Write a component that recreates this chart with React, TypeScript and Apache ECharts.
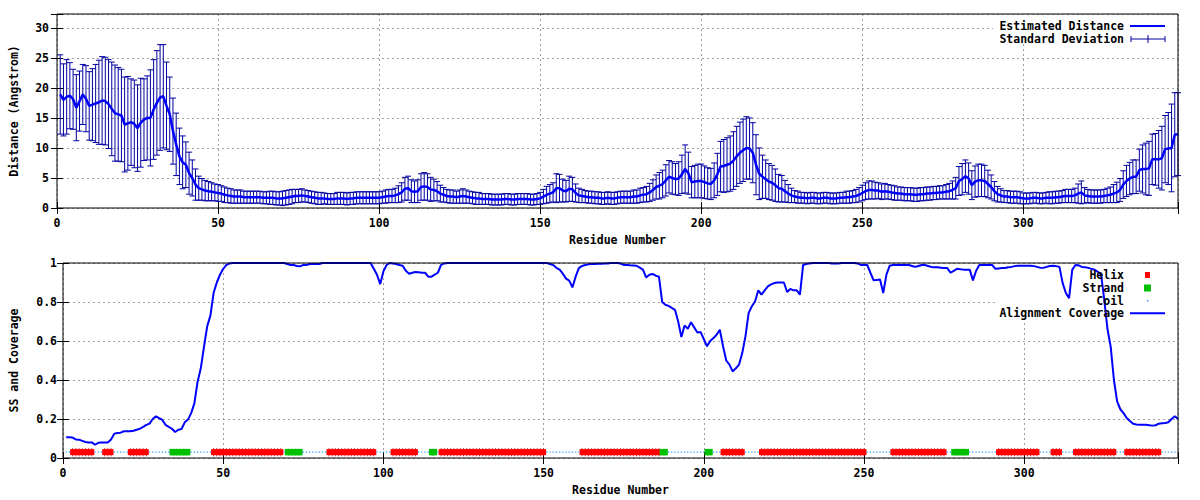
import React, { useEffect, useRef } from 'react';
import * as echarts from 'echarts';

// ---------------- DATA ----------------
const xMax = 348;
const distYMax = 32.3;

// Estimated distance (Angstrom), residues 1..348
const distMean = [
  18.9, 18.0, 18.5, 18.7, 18.1, 16.7, 17.8, 18.9, 18.2, 17.0,
  17.2, 17.4, 17.6, 17.9, 17.8, 17.3, 16.5, 15.8, 15.6, 15.4,
  13.9, 14.1, 14.3, 14.0, 13.3, 14.2, 14.7, 15.0, 15.0, 16.4,
  17.5, 18.4, 18.6, 17.0, 15.6, 12.8, 10.6, 8.6, 7.6, 7.2,
  5.8, 5.0, 3.9, 3.3, 3.1, 2.9, 2.8, 2.7, 2.6, 2.5,
  2.4, 2.2, 2.1, 2.0, 1.9, 1.9, 1.9, 1.8, 1.8, 1.8,
  1.8, 1.8, 1.8, 1.7, 1.7, 1.7, 1.7, 1.6, 1.6, 1.6,
  1.7, 1.8, 1.9, 2.0, 2.0, 2.1, 2.0, 1.9, 1.8, 1.7,
  1.6, 1.6, 1.6, 1.5, 1.5, 1.5, 1.6, 1.6, 1.6, 1.5,
  1.6, 1.6, 1.7, 1.7, 1.7, 1.7, 1.7, 1.7, 1.7, 1.7,
  1.8, 1.9, 2.0, 2.0, 2.1, 2.3, 2.6, 3.2, 3.3, 2.8,
  2.7, 2.8, 3.5, 3.6, 3.5, 3.1, 3.0, 2.8, 2.4, 2.2,
  2.0, 1.9, 1.9, 1.8, 1.9, 2.0, 1.9, 1.8, 1.7, 1.6,
  1.6, 1.5, 1.5, 1.5, 1.4, 1.4, 1.4, 1.4, 1.5, 1.5,
  1.4, 1.4, 1.5, 1.5, 1.5, 1.5, 1.4, 1.4, 1.5, 1.6,
  1.9, 2.2, 2.4, 2.6, 3.3, 3.3, 2.9, 2.8, 3.2, 3.1,
  2.5, 2.1, 2.0, 1.9, 1.8, 1.8, 1.7, 1.7, 1.6, 1.6,
  1.7, 1.6, 1.6, 1.7, 1.8, 1.8, 1.8, 1.8, 1.9, 1.9,
  2.1, 2.2, 2.3, 2.6, 3.0, 3.5, 3.7, 4.0, 4.6, 5.2,
  5.0, 4.8, 4.9, 5.6, 6.5, 5.8, 4.3, 4.4, 4.5, 4.5,
  4.3, 4.1, 4.0, 4.6, 5.6, 6.9, 7.0, 7.2, 7.4, 7.9,
  8.6, 9.2, 9.6, 10.0, 9.9, 9.2, 7.2, 5.7, 5.2, 4.8,
  4.4, 4.2, 3.8, 3.3, 3.2, 2.8, 2.4, 2.1, 1.9, 1.8,
  1.7, 1.7, 1.6, 1.7, 1.7, 1.6, 1.6, 1.7, 1.7, 1.6,
  1.6, 1.6, 1.7, 1.7, 1.8, 1.8, 1.9, 2.0, 2.2, 2.5,
  2.8, 3.0, 3.0, 2.9, 2.9, 2.7, 2.8, 2.7, 2.6, 2.5,
  2.4, 2.4, 2.3, 2.3, 2.3, 2.2, 2.2, 2.3, 2.3, 2.4,
  2.4, 2.5, 2.5, 2.6, 2.6, 2.7, 2.8, 3.0, 3.3, 4.5,
  4.8, 5.3, 4.9, 3.8, 4.4, 4.6, 4.6, 4.5, 4.0, 3.5,
  2.8, 2.3, 2.1, 1.9, 1.9, 1.8, 1.8, 1.8, 1.7, 1.6,
  1.6, 1.6, 1.7, 1.7, 1.6, 1.6, 1.7, 1.7, 1.7, 1.8,
  1.8, 1.9, 2.0, 2.0, 2.0, 2.1, 2.4, 2.6, 2.1, 2.0,
  1.9, 1.9, 1.9, 1.9, 2.0, 2.1, 2.2, 2.4, 2.6, 3.0,
  3.9, 4.5, 4.9, 5.2, 5.2, 6.3, 6.5, 6.5, 6.6, 8.1,
  8.1, 8.1, 8.3, 9.8, 9.9, 10.0, 12.2, 12.3,
];

// Standard deviation of the distance, residues 1..348
const distStd = [
  6.6, 6.0, 6.2, 5.5, 5.0, 5.5, 5.0, 5.0, 5.5, 5.7,
  6.0, 6.5, 7.0, 7.3, 7.3, 7.4, 7.8, 8.0, 7.8, 7.7,
  7.9, 7.8, 7.2, 7.3, 7.2, 7.4, 6.8, 7.0, 8.0, 8.3,
  8.7, 8.8, 8.6, 7.3, 6.2, 5.5, 5.2, 4.7, 4.4, 3.8,
  3.5, 3.0, 2.6, 2.0, 1.8, 1.7, 1.6, 1.5, 1.4, 1.4,
  1.3, 1.3, 1.2, 1.2, 1.1, 1.1, 1.1, 1.0, 1.0, 1.0,
  1.0, 1.0, 1.0, 1.0, 1.0, 1.1, 1.1, 1.1, 1.1, 1.2,
  1.2, 1.2, 1.2, 1.1, 1.1, 1.1, 1.0, 1.0, 1.0, 1.0,
  1.0, 1.0, 0.9, 0.9, 0.9, 0.9, 1.0, 1.0, 1.0, 1.0,
  1.0, 1.0, 1.0, 1.0, 1.0, 1.0, 1.0, 1.0, 1.0, 1.0,
  1.0, 1.1, 1.1, 1.1, 1.2, 1.4, 1.6, 1.9, 2.0, 1.9,
  1.8, 1.9, 2.2, 2.3, 2.2, 2.0, 1.8, 1.6, 1.4, 1.2,
  1.1, 1.1, 1.1, 1.0, 1.1, 1.2, 1.1, 1.0, 1.0, 1.0,
  1.0, 0.9, 0.9, 0.9, 0.9, 0.9, 0.9, 0.9, 0.9, 0.9,
  0.9, 0.9, 0.9, 0.9, 0.9, 0.9, 0.9, 0.9, 0.9, 1.0,
  1.2, 1.4, 1.5, 1.6, 2.4, 2.3, 1.9, 1.8, 2.1, 2.0,
  1.5, 1.2, 1.1, 1.0, 1.0, 1.0, 1.0, 1.0, 1.0, 1.0,
  1.0, 1.0, 1.0, 1.0, 1.0, 1.0, 1.0, 1.0, 1.1, 1.1,
  1.2, 1.2, 1.3, 1.5, 1.7, 2.0, 2.2, 2.3, 2.6, 2.7,
  2.7, 2.6, 2.8, 3.2, 4.0, 3.5, 2.6, 2.7, 2.8, 2.8,
  2.7, 2.6, 2.6, 2.9, 3.5, 4.2, 4.4, 4.5, 4.6, 4.8,
  5.0, 5.1, 5.2, 5.2, 5.1, 5.0, 5.0, 4.3, 3.6, 3.2,
  3.0, 2.9, 2.7, 2.3, 2.2, 1.8, 1.5, 1.2, 1.0, 1.0,
  0.9, 0.9, 0.9, 0.9, 0.9, 0.9, 0.9, 0.9, 0.9, 0.9,
  0.9, 0.9, 0.9, 0.9, 1.0, 1.0, 1.0, 1.1, 1.2, 1.3,
  1.4, 1.5, 1.5, 1.4, 1.3, 1.3, 1.3, 1.2, 1.2, 1.2,
  1.1, 1.1, 1.1, 1.1, 1.1, 1.1, 1.1, 1.1, 1.1, 1.1,
  1.1, 1.1, 1.1, 1.1, 1.1, 1.2, 1.3, 1.5, 1.8, 2.4,
  2.6, 2.7, 2.6, 2.4, 2.6, 2.7, 2.7, 2.6, 2.3, 2.0,
  1.6, 1.3, 1.1, 1.0, 1.0, 1.0, 1.0, 1.0, 1.0, 0.9,
  0.9, 0.9, 0.9, 0.9, 0.9, 0.9, 0.9, 1.0, 1.0, 1.0,
  1.0, 1.0, 1.1, 1.1, 1.1, 1.2, 1.6, 1.9, 1.3, 1.1,
  1.1, 1.1, 1.1, 1.1, 1.1, 1.2, 1.3, 1.5, 1.7, 1.9,
  2.3, 2.6, 2.7, 2.8, 2.8, 3.5, 4.0, 4.3, 4.5, 4.2,
  4.3, 4.8, 5.3, 5.6, 6.0, 7.3, 7.0, 6.9,
];

// Alignment coverage, residues 1..348
const coverage = [
  0.106, 0.106, 0.105, 0.095, 0.094, 0.088, 0.082, 0.080, 0.080, 0.068,
  0.078, 0.080, 0.080, 0.080, 0.095, 0.125, 0.128, 0.130, 0.137, 0.137,
  0.137, 0.140, 0.145, 0.150, 0.160, 0.170, 0.176, 0.200, 0.214, 0.205,
  0.195, 0.170, 0.160, 0.150, 0.133, 0.145, 0.149, 0.183, 0.197, 0.230,
  0.280, 0.390, 0.460, 0.570, 0.675, 0.730, 0.846, 0.900, 0.940, 0.970,
  0.990, 0.998, 1, 1, 1, 1, 1, 1, 1, 1,
  1, 1, 1, 1, 1, 1, 1, 1, 1, 0.995,
  0.990, 0.990, 0.985, 0.983, 0.990, 0.990, 0.995, 0.995, 0.995, 0.995,
  1, 1, 1, 1, 1, 1, 1, 1, 1, 1,
  1, 1, 1, 1, 1, 1, 0.970, 0.940, 0.892, 0.957,
  0.990, 1, 0.997, 0.995, 0.990, 0.986, 0.960, 0.945, 0.950, 0.954,
  0.952, 0.950, 0.950, 0.930, 0.930, 0.940, 0.950, 0.990, 0.998, 1,
  1, 1, 1, 1, 1, 1, 1, 1, 1, 1,
  1, 1, 1, 1, 1, 1, 1, 1, 1, 1,
  1, 1, 1, 1, 1, 1, 1, 1, 1, 1,
  1, 0.995, 0.990, 0.975, 0.966, 0.945, 0.920, 0.910, 0.875, 0.930,
  0.974, 0.985, 0.990, 0.993, 0.995, 0.995, 0.996, 0.996, 0.997, 0.998,
  1, 1, 1, 0.997, 0.990, 0.990, 0.988, 0.987, 0.986, 0.976,
  0.966, 0.926, 0.940, 0.944, 0.935, 0.930, 0.800, 0.786, 0.780, 0.770,
  0.760, 0.700, 0.620, 0.680, 0.663, 0.696, 0.670, 0.644, 0.646, 0.610,
  0.573, 0.600, 0.615, 0.632, 0.658, 0.573, 0.500, 0.479, 0.444, 0.460,
  0.479, 0.538, 0.624, 0.744, 0.778, 0.803, 0.860, 0.838, 0.860, 0.880,
  0.890, 0.897, 0.900, 0.900, 0.900, 0.851, 0.867, 0.860, 0.860, 0.838,
  0.990, 0.995, 0.998, 1, 1, 1, 1, 1, 1, 0.998,
  0.997, 0.998, 1, 1, 1, 1, 1, 0.998, 0.990, 0.990,
  0.990, 0.950, 0.911, 0.913, 0.915, 0.846, 0.940, 0.986, 0.990, 0.990,
  0.990, 0.990, 0.990, 0.990, 0.985, 0.980, 0.985, 0.990, 0.990, 0.985,
  0.980, 0.978, 0.978, 0.976, 0.974, 0.974, 0.950, 0.960, 0.970, 0.968,
  0.966, 0.966, 0.966, 0.911, 0.960, 0.990, 0.990, 0.990, 0.990, 0.990,
  0.970, 0.972, 0.974, 0.974, 0.978, 0.980, 0.984, 0.986, 0.986, 0.986,
  0.986, 0.986, 0.984, 0.980, 0.976, 0.975, 0.980, 0.985, 0.986, 0.984,
  0.980, 0.897, 0.846, 0.820, 0.966, 0.990, 0.988, 0.980, 0.978, 0.975,
  0.970, 0.965, 0.955, 0.940, 0.810, 0.660, 0.570, 0.400, 0.290, 0.250,
  0.230, 0.205, 0.190, 0.176, 0.172, 0.170, 0.170, 0.170, 0.168, 0.166,
  0.168, 0.176, 0.178, 0.180, 0.183, 0.200, 0.214, 0.200,
];

// Secondary structure segments (residue ranges)
const helixRanges = [
  [3, 9], [13, 15], [21, 26], [47, 68], [83, 97], [103, 110], [118, 150],
  [162, 186], [206, 212], [218, 250], [259, 275], [292, 304], [309, 311],
  [316, 328], [332, 342],
];
const strandRanges = [[34, 39], [70, 74], [115, 116], [187, 188], [201, 202], [278, 282]];
const ssLevel = 0.03;

// ---------------- BUILD ----------------
const residues = distMean.map((_, i) => i + 1);
const inRanges = (r: number, ranges: number[][]) => ranges.some(([a, b]) => r >= a && r <= b);
const helixData = residues.filter((r) => inRanges(r, helixRanges)).map((r) => [r, ssLevel]);
const strandData = residues.filter((r) => inRanges(r, strandRanges)).map((r) => [r, ssLevel]);
const coilData = residues
  .filter((r) => !inRanges(r, helixRanges) && !inRanges(r, strandRanges))
  .map((r) => [r, ssLevel]);

const FONT = '"DejaVu Sans Mono", "Liberation Mono", monospace';
const FS = 11.5;
const labelStyle = { fontFamily: FONT, fontWeight: 'bold' as const, fontSize: FS, color: '#000' };
const gridLine = { show: true, lineStyle: { color: '#a0a0a0', width: 1, type: [2, 3] as any } };
const tickIn = { show: true, inside: true, length: 6, lineStyle: { color: '#000', width: 1 } };

const DARK = '#0000a0';
const BLUE = '#0000ff';
const RED = '#ff0000';
const GREEN = '#00c000';
const COIL = '#1e8fff';

function xAxes(gridIndex: number) {
  return [
    {
      type: 'value', gridIndex, min: 0, max: xMax, interval: 50, position: 'bottom',
      axisLine: { show: false }, axisTick: tickIn,
      axisLabel: { ...labelStyle, margin: 9, formatter: (v: number) => (v % 50 === 0 ? String(v) : '') },
      splitLine: gridLine,
      name: 'Residue Number', nameLocation: 'middle', nameGap: 26,
      nameTextStyle: labelStyle,
    },
    {
      type: 'value', gridIndex, min: 0, max: xMax, interval: 50, position: 'top', z: 3,
      axisLine: { show: false }, axisTick: tickIn, axisLabel: { show: false }, splitLine: { show: false },
    },
  ];
}

function yAxes(gridIndex: number, max: number, interval: number, name: string, nameGap: number, margin: number) {
  return [
    {
      type: 'value', gridIndex, min: 0, max, interval, position: 'left',
      axisLine: { show: false }, axisTick: tickIn,
      axisLabel: {
        ...labelStyle, margin,
        formatter: (v: number) => {
          const k = Math.round(v / interval);
          return Math.abs(k * interval - v) < 1e-6 ? String(+(k * interval).toFixed(2)) : '';
        },
      },
      splitLine: gridLine,
      name, nameLocation: 'middle', nameGap, nameTextStyle: labelStyle,
    },
    {
      type: 'value', gridIndex, min: 0, max, interval, position: 'right', z: 3,
      axisLine: { show: false }, axisTick: tickIn, axisLabel: { show: false }, splitLine: { show: false },
    },
  ];
}

// one filled block per residue, wide enough to touch its neighbours (gnuplot point marks)
function ssBlock(color: string, h: number, notch: boolean) {
  return (params: any, api: any) => {
    const c = api.coord([api.value(0), api.value(1)]);
    const step = api.size([1, 0])[0];
    const w = Math.max(step + 1, 5);
    const children: any[] = [
      { type: 'rect', shape: { x: c[0] - w / 2, y: c[1] - h / 2, width: w, height: h }, style: { fill: color } },
    ];
    if (notch) {
      children.push(
        { type: 'rect', shape: { x: c[0] - 0.5, y: c[1] - h / 2 - 1, width: 1, height: 1 }, style: { fill: '#c00000' } },
        { type: 'rect', shape: { x: c[0] - 0.5, y: c[1] + h / 2, width: 1, height: 1 }, style: { fill: '#c00000' } },
      );
    }
    return { type: 'group', children };
  };
}

const txt = (text: string, x: number, y: number) => ({
  type: 'text', z: 6,
  style: {
    text, x, y, fill: '#000',
    font: `bold ${FS}px ${FONT}`,
    align: 'right', verticalAlign: 'middle',
    textAlign: 'right', textVerticalAlign: 'middle',
  },
});
const seg = (x1: number, y1: number, x2: number, y2: number, stroke: string, lineWidth: number) => ({
  type: 'line', z: 6, shape: { x1, y1, x2, y2 }, style: { stroke, lineWidth },
});

export default function App() {
  const ref = useRef<HTMLDivElement>(null);
  useEffect(() => {
    const chart = echarts.init(ref.current!, null, { renderer: 'svg' });
    const option: any = {
      animation: false,
      backgroundColor: '#fff',
      grid: [
        { left: 52, right: 22, top: 14, height: 194, show: true, borderColor: '#000', borderWidth: 1, backgroundColor: 'transparent', z: 4 },
        { left: 58, right: 22, top: 263, height: 195, show: true, borderColor: '#000', borderWidth: 1, backgroundColor: 'transparent', z: 4 },
      ],
      xAxis: [...xAxes(0), ...xAxes(1)],
      yAxis: [
        ...yAxes(0, distYMax, 5, 'Distance (Angstrom)', 37, 8),
        ...yAxes(1, 1, 0.2, 'SS and Coverage', 43, 6),
      ],
      series: [
        {
          name: 'Standard Deviation', type: 'custom', xAxisIndex: 0, yAxisIndex: 0, z: 2,
          data: residues.map((r, i) => [r, distMean[i], distStd[i]]),
          encode: { x: 0, y: 1 },
          renderItem: (params: any, api: any) => {
            const x = api.value(0), m = api.value(1), s = api.value(2);
            const t = api.coord([x, m + s]);
            const b = api.coord([x, m - s]);
            const w = 3;
            const style = { stroke: DARK, lineWidth: 1, fill: null };
            return {
              type: 'group',
              children: [
                { type: 'line', shape: { x1: t[0], y1: t[1], x2: b[0], y2: b[1] }, style },
                { type: 'line', shape: { x1: t[0] - w, y1: t[1], x2: t[0] + w, y2: t[1] }, style },
                { type: 'line', shape: { x1: b[0] - w, y1: b[1], x2: b[0] + w, y2: b[1] }, style },
              ],
            };
          },
        },
        {
          name: 'Estimated Distance', type: 'line', xAxisIndex: 0, yAxisIndex: 0, z: 3,
          data: residues.map((r, i) => [r, distMean[i]]),
          showSymbol: false, lineStyle: { color: BLUE, width: 2.5 }, itemStyle: { color: BLUE },
        },
        {
          name: 'Coil', type: 'scatter', xAxisIndex: 2, yAxisIndex: 2, z: 2,
          data: coilData, symbol: 'rect', symbolSize: 1.4, itemStyle: { color: COIL },
        },
        {
          name: 'Helix', type: 'custom', xAxisIndex: 2, yAxisIndex: 2, z: 2,
          data: helixData, encode: { x: 0, y: 1 }, renderItem: ssBlock(RED, 6, true),
        },
        {
          name: 'Strand', type: 'custom', xAxisIndex: 2, yAxisIndex: 2, z: 2,
          data: strandData, encode: { x: 0, y: 1 }, renderItem: ssBlock(GREEN, 6.5, false),
        },
        {
          name: 'Alignment Coverage', type: 'line', xAxisIndex: 2, yAxisIndex: 2, z: 3,
          data: residues.map((r, i) => [r, coverage[i]]),
          showSymbol: false, lineStyle: { color: BLUE, width: 2 }, itemStyle: { color: BLUE },
        },
      ],
      graphic: [
        // top key
        { type: 'rect', z: 1, shape: { x: 993, y: 15, width: 184, height: 29 }, style: { fill: '#fff' } },
        txt('Estimated Distance', 1124, 26),
        seg(1130, 26, 1165, 26, BLUE, 2),
        txt('Standard Deviation', 1124, 39),
        seg(1131, 39, 1165, 39, DARK, 1),
        seg(1131, 36, 1131, 42, DARK, 1),
        seg(1165, 36, 1165, 42, DARK, 1),
        seg(1148, 35, 1148, 43, DARK, 1),
        // bottom key
        { type: 'rect', z: 1, shape: { x: 997, y: 264, width: 180, height: 56 }, style: { fill: '#fff' } },
        txt('Helix', 1124, 275),
        { type: 'rect', z: 6, shape: { x: 1145, y: 272, width: 5, height: 6 }, style: { fill: RED } },
        txt('Strand', 1124, 288),
        { type: 'rect', z: 6, shape: { x: 1144, y: 284.5, width: 7, height: 7 }, style: { fill: GREEN } },
        txt('Coil', 1124, 300.7),
        { type: 'rect', z: 6, shape: { x: 1147, y: 300, width: 1.4, height: 1.4 }, style: { fill: COIL } },
        txt('Alignment Coverage', 1124, 313.3),
        seg(1130, 313.3, 1165, 313.3, BLUE, 2),
      ],
    };
    chart.setOption(option);
    return () => chart.dispose();
  }, []);
  return <div ref={ref} style={{ position: 'absolute', left: 0, top: 0, width: 1200, height: 500 }} />;
}
